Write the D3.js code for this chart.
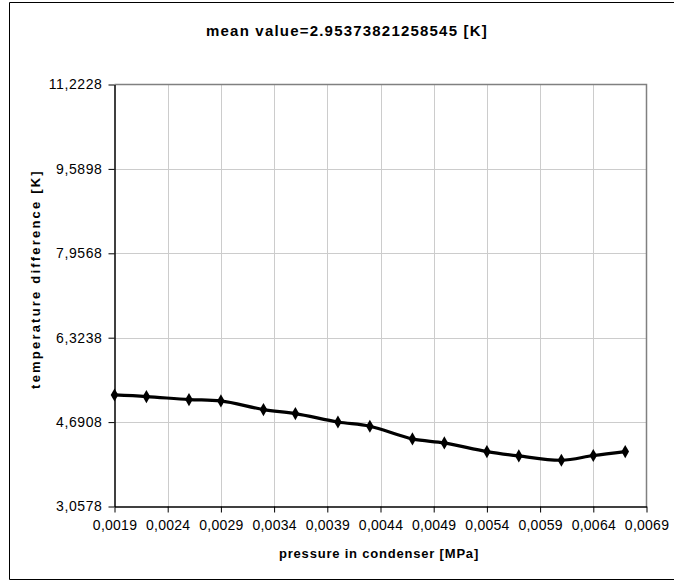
<!DOCTYPE html>
<html>
<head>
<meta charset="utf-8">
<script src="https://cdn.jsdelivr.net/npm/d3@7"></script>
<style>
  html, body { margin: 0; padding: 0; background: #fff; }
  svg { display: block; }
  text { font-family: "Liberation Sans", Arial, sans-serif; }
</style>
</head>
<body>
<svg id="chart" width="674" height="581"></svg>
<script>
const pressure = [0.0019, 0.0022, 0.0026, 0.0029, 0.0033, 0.0036, 0.0040, 0.0043, 0.0047, 0.0050, 0.0054, 0.0057, 0.0061, 0.0064, 0.0067];
const tempDiff = [5.216, 5.185, 5.127, 5.100, 4.933, 4.856, 4.693, 4.610, 4.365, 4.288, 4.121, 4.036, 3.953, 4.044, 4.121];
const xTicks = [0.0019, 0.0024, 0.0029, 0.0034, 0.0039, 0.0044, 0.0049, 0.0054, 0.0059, 0.0064, 0.0069];
const yTicks = [3.0578, 4.6908, 6.3238, 7.9568, 9.5898, 11.2228];
const titleText = "mean value=2.95373821258545 [K]";
const xTitle = "pressure in condenser [MPa]";
const yTitle = "temperature difference [K]";

const svg = d3.select("#chart");
const L = 114.5, R = 646.5, T = 84.5, B = 506.5;

// outer frame
svg.append("path")
  .attr("d", `M700,2.5 H9.5 V579.5 H700`)
  .attr("fill", "none").attr("stroke", "#000").attr("stroke-width", 1);

const x = d3.scaleLinear().domain([0.0019, 0.0069]).range([L, R]);
const y = d3.scaleLinear().domain([3.0578, 11.2228]).range([B, T]);
const fmt = (d, n) => d.toFixed(n).replace(".", ",");

// gridlines
const g = svg.append("g");
g.selectAll(".vg").data(xTicks.slice(1, -1)).enter().append("line")
  .attr("x1", d => Math.round(x(d)) + 0.5).attr("x2", d => Math.round(x(d)) + 0.5)
  .attr("y1", T).attr("y2", B).attr("stroke", "#cccccc");
g.selectAll(".hg").data(yTicks.slice(1, -1)).enter().append("line")
  .attr("y1", d => Math.round(y(d)) + 0.5).attr("y2", d => Math.round(y(d)) + 0.5)
  .attr("x1", L).attr("x2", R).attr("stroke", "#cccccc");

// top/right border
svg.append("path").attr("d", `M${L},${T} H${R} V${B}`)
  .attr("fill", "none").attr("stroke", "#808080").attr("stroke-width", 1.5);

// axes
const xAxis = d3.axisBottom(x).tickValues(xTicks).tickSize(6).tickSizeOuter(0).tickPadding(8)
  .tickFormat(d => fmt(d, 4));
const yAxis = d3.axisLeft(y).tickValues(yTicks).tickSize(6).tickSizeOuter(0).tickPadding(6)
  .tickFormat(d => fmt(d, 4));

const gx = svg.append("g").attr("transform", `translate(0,${B})`).call(xAxis);
const gy = svg.append("g").attr("transform", `translate(${L},0)`).call(yAxis);
[gx, gy].forEach(a => {
  a.select(".domain").attr("stroke", "#000").attr("stroke-width", 1.5);
  a.selectAll(".tick line").attr("stroke", "#000");
  a.selectAll(".tick text").attr("fill", "#000")
    .style("font-family", '"Liberation Sans", Arial, sans-serif').style("font-size", "14px");
});
gx.selectAll(".tick text").style("letter-spacing", "0.25px");
gy.selectAll(".tick text").style("letter-spacing", "0.6px");

// line
const line = d3.line().x((d, i) => x(pressure[i])).y(d => y(d)).curve(d3.curveCatmullRom.alpha(0.5));
svg.append("path").datum(tempDiff).attr("d", line)
  .attr("fill", "none").attr("stroke", "#000").attr("stroke-width", 3.2).attr("stroke-linejoin", "round");

// markers
svg.selectAll(".mk").data(tempDiff).enter().append("path")
  .attr("d", d3.symbol().type(d3.symbolDiamond).size(50))
  .attr("transform", (d, i) => `translate(${x(pressure[i])},${y(d)})`)
  .attr("fill", "#000");

// titles
svg.append("text").attr("x", 347).attr("y", 36).attr("text-anchor", "middle")
  .style("font-size", "15px").style("font-weight", "bold").style("letter-spacing", "1.2px").text(titleText);
svg.append("text").attr("x", 379).attr("y", 558).attr("text-anchor", "middle")
  .style("font-size", "13px").style("font-weight", "bold").style("letter-spacing", "0.8px").text(xTitle);
svg.append("text").attr("transform", "translate(40,279) rotate(-90)").attr("text-anchor", "middle")
  .style("font-size", "13px").style("font-weight", "bold").style("letter-spacing", "2.2px").text(yTitle);
</script>
</body>
</html>
